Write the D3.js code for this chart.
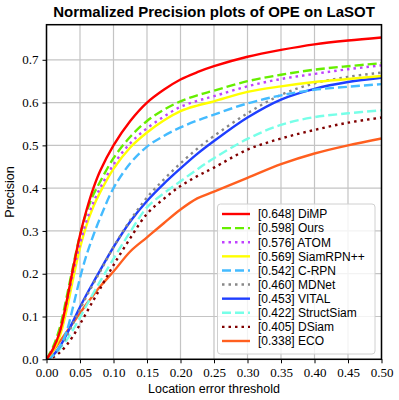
<!DOCTYPE html>
<html>
<head>
<meta charset="utf-8">
<script src="https://cdn.jsdelivr.net/npm/d3@7"></script>
<style>
  body { margin: 0; background: #fff; }
</style>
</head>
<body>
<div id="container"></div>
<script>
// thresholds shared by every curve
let thresholds = [0, .01, .02, .03, .04, .05, .06, .07, .08, .1, .125, .15, .175, .2, .225, .25, .3, .35, .4, .45, .5];

// precision values
let dimp      = [0, .025, .065, .135, .215, .29, .35, .40, .44, .50, .557, .60, .63, .654, .671, .685, .707, .723, .736, .745, .752];
let ours      = [0, .03, .075, .145, .22, .29, .345, .385, .415, .47, .52, .557, .583, .603, .617, .628, .65, .665, .677, .685, .692];
let atom      = [0, .025, .065, .13, .205, .27, .325, .367, .40, .455, .505, .54, .567, .59, .604, .615, .638, .655, .667, .678, .687];
let siamrpnpp = [0, .02, .055, .115, .19, .26, .315, .357, .39, .445, .495, .53, .558, .58, .593, .603, .625, .638, .648, .655, .662];
let crpn      = [0, .01, .03, .065, .125, .19, .245, .29, .33, .40, .458, .497, .522, .542, .558, .572, .598, .617, .63, .637, .643];
let mdnet     = [0, .01, .028, .054, .085, .117, .148, .177, .205, .262, .325, .378, .42, .458, .492, .522, .575, .618, .645, .66, .67];
let vital     = [0, .01, .03, .058, .09, .122, .152, .18, .208, .262, .322, .37, .41, .446, .48, .51, .565, .607, .632, .648, .658];
let structsiam= [0, .008, .025, .045, .07, .098, .127, .155, .182, .235, .298, .355, .388, .416, .444, .47, .515, .548, .566, .575, .582];
let dsiam     = [0, .005, .016, .033, .055, .082, .11, .138, .165, .22, .283, .34, .375, .405, .428, .448, .49, .516, .536, .553, .565];
let eco       = [0, .02, .042, .064, .086, .108, .13, .15, .17, .205, .252, .285, .318, .35, .376, .392, .424, .456, .481, .50, .516];

let names  = ["DiMP", "Ours", "ATOM", "SiamRPN++", "C-RPN", "MDNet", "VITAL", "StructSiam", "DSiam", "ECO"];
let scores = ["0.648", "0.598", "0.576", "0.569", "0.542", "0.460", "0.453", "0.422", "0.405", "0.338"];
let series = [dimp, ours, atom, siamrpnpp, crpn, mdnet, vital, structsiam, dsiam, eco];

let colors = ["#ff0000", "#66ee00", "#bf40ff", "#ffff00", "#44bbff", "#888888", "#1f3fff", "#77ffe8", "#800000", "#ff5f1f"];
let dashes = [null, "9,4", "2.5,4", null, "9,4", "2.5,4", null, "9,4", "2.5,4", null];

let xTicks = [0, .05, .1, .15, .2, .25, .3, .35, .4, .45, .5];
let yTicks = [0, .1, .2, .3, .4, .5, .6, .7];

let w = 399;
let h = 400;
let padL = 46.5, padR = 381.5, padT = 24.7, padB = 359.3;

let viz = d3.select("#container")
  .append("svg")
    .attr("width", w)
    .attr("height", h)
;

let xScale = d3.scaleLinear().domain([0, 0.5]).range([padL, padR]);
let yScale = d3.scaleLinear().domain([0, 0.782]).range([padB, padT]);

// grid
let gridGroup = viz.append("g").attr("class", "grid");
gridGroup.selectAll(".vgrid").data(xTicks).enter()
  .append("line")
    .attr("x1", d => xScale(d)).attr("x2", d => xScale(d))
    .attr("y1", padT).attr("y2", padB)
    .attr("stroke", "#c4c4c4").attr("stroke-width", 1.2);
gridGroup.selectAll(".hgrid").data(yTicks).enter()
  .append("line")
    .attr("x1", padL).attr("x2", padR)
    .attr("y1", d => yScale(d)).attr("y2", d => yScale(d))
    .attr("stroke", "#c4c4c4").attr("stroke-width", 1.2);

// clip for curves
viz.append("clipPath").attr("id", "clip")
  .append("rect")
    .attr("x", padL).attr("y", padT)
    .attr("width", padR - padL).attr("height", padB - padT);

let lineMaker = d3.line()
  .x(function(d, i){ return xScale(thresholds[i]); })
  .y(function(d){ return yScale(d); })
  .curve(d3.curveCatmullRom.alpha(0.5))
;

let graphGroup = viz.append("g").attr("clip-path", "url(#clip)");
// draw last series first so DiMP ends on top
let order = d3.range(series.length).reverse();
graphGroup.selectAll(".line").data(order).enter()
  .append("path")
    .attr("class", "line")
    .attr("d", i => lineMaker(series[i]))
    .attr("fill", "none")
    .attr("stroke", i => colors[i])
    .attr("stroke-width", 2.4)
    .attr("stroke-dasharray", i => dashes[i])
;

// axes
let xAxis = d3.axisBottom(xScale).tickValues(xTicks).tickFormat(d3.format(".2f")).tickSize(4).tickPadding(4);
let yAxis = d3.axisLeft(yScale).tickValues(yTicks).tickFormat(d3.format(".1f")).tickSize(4).tickPadding(4);

let xAxisGroup = viz.append("g").attr("transform", "translate(0," + padB + ")").call(xAxis);
let yAxisGroup = viz.append("g").attr("transform", "translate(" + padL + ",0)").call(yAxis);
[xAxisGroup, yAxisGroup].forEach(function(g){
  g.select(".domain").remove();
  g.selectAll("line").attr("stroke", "#000").attr("stroke-width", 1);
  g.selectAll("text")
    .attr("fill", "#000")
    .style("font-family", "'Liberation Serif', serif")
    .style("font-size", "13px");
});

// frame
viz.append("rect")
  .attr("x", padL).attr("y", padT)
  .attr("width", padR - padL).attr("height", padB - padT)
  .attr("fill", "none").attr("stroke", "#000").attr("stroke-width", 1.5);

// title and labels
viz.append("text")
  .attr("x", (padL + padR) / 2).attr("y", 17)
  .attr("text-anchor", "middle")
  .style("font-family", "'Liberation Sans', Arial, sans-serif")
  .style("font-weight", "bold")
  .style("font-size", "15px")
  .text("Normalized Precision plots of OPE on LaSOT");

viz.append("text")
  .attr("x", (padL + padR) / 2).attr("y", 393)
  .attr("text-anchor", "middle")
  .style("font-family", "'Liberation Sans', Arial, sans-serif")
  .style("font-size", "12.5px")
  .text("Location error threshold");

viz.append("text")
  .attr("transform", "translate(14," + ((padT + padB) / 2) + ") rotate(-90)")
  .attr("text-anchor", "middle")
  .style("font-family", "'Liberation Sans', Arial, sans-serif")
  .style("font-size", "12.5px")
  .text("Precision");

// legend
let legend = viz.append("g");
legend.append("rect")
  .attr("x", 217.5).attr("y", 204)
  .attr("width", 157.5).attr("height", 150)
  .attr("rx", 3)
  .attr("fill", "#fff").attr("fill-opacity", 0.8)
  .attr("stroke", "#d0d0d0").attr("stroke-width", 1);

let rowY = d3.scaleLinear().domain([0, 9]).range([214, 341]);
let rows = legend.selectAll(".row").data(d3.range(series.length)).enter()
  .append("g").attr("transform", i => "translate(0," + rowY(i) + ")");
rows.append("line")
  .attr("x1", 222).attr("x2", 250)
  .attr("stroke", i => colors[i])
  .attr("stroke-width", 2.4)
  .attr("stroke-dasharray", i => dashes[i]);
rows.append("text")
  .attr("x", 258).attr("y", 4.3)
  .style("font-family", "'Liberation Sans', Arial, sans-serif")
  .style("font-size", "12px")
  .text(i => "[" + scores[i] + "] " + names[i]);
</script>
</body>
</html>
